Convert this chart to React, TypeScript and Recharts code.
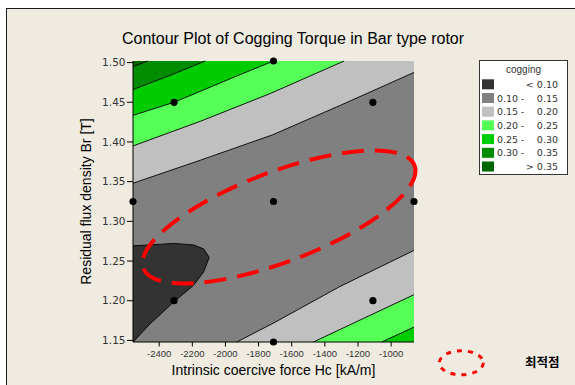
import React from 'react';
import { ComposedChart, Area, Line, Scatter, XAxis, YAxis, ReferenceDot } from 'recharts';

// ---- axis ranges and ticks ----
const HC_MIN = -2558;
const HC_MAX = -862;
const BR_MIN = 1.148;
const BR_MAX = 1.502;
const hcTicks = [-2400, -2200, -2000, -1800, -1600, -1400, -1200, -1000];
const brTicks = [1.15, 1.2, 1.25, 1.3, 1.35, 1.4, 1.45, 1.5];

// ---- legend levels ----
const levelColors = ['#333333', '#808080', '#c0c0c0', '#55ff55', '#00cc00', '#008c00', '#006600'];
const levelLabels = ['< 0.10', '0.10 - 0.15', '0.15 - 0.20', '0.20 - 0.25', '0.25 - 0.30', '0.30 - 0.35', '> 0.35'];

// ---- design points (central composite design) ----
const designPoints = [
  { hc: -2558, br: 1.325 },
  { hc: -2310, br: 1.45 },
  { hc: -2310, br: 1.2 },
  { hc: -1710, br: 1.502 },
  { hc: -1710, br: 1.325 },
  { hc: -1710, br: 1.148 },
  { hc: -1110, br: 1.45 },
  { hc: -1110, br: 1.2 },
  { hc: -862, br: 1.325 },
];

// ---- contour boundaries (upper-left side) ----
const contour035 = [
  { hc: -2558, br: 1.495 },
  { hc: -2469, br: 1.502 },
];
const contour030 = [
  { hc: -2558, br: 1.466 },
  { hc: -2333, br: 1.484 },
  { hc: -2122, br: 1.502 },
];
const contour025 = [
  { hc: -2558, br: 1.4335 },
  { hc: -2310, br: 1.45 },
  { hc: -1921, br: 1.484 },
  { hc: -1710, br: 1.502 },
];
const contour020 = [
  { hc: -2558, br: 1.395 },
  { hc: -2152, br: 1.426 },
  { hc: -1730, br: 1.461 },
  { hc: -1284, br: 1.502 },
];
const contour015Upper = [
  { hc: -2558, br: 1.348 },
  { hc: -2152, br: 1.377 },
  { hc: -1715, br: 1.409 },
  { hc: -1308, br: 1.446 },
  { hc: -862, br: 1.4876 },
];

// ---- contour boundaries (lower-right side) ----
const contour015Lower = [
  { hc: -1931, br: 1.148 },
  { hc: -1700, br: 1.173 },
  { hc: -1308, br: 1.218 },
  { hc: -862, br: 1.2634 },
];
const contour020Lower = [
  { hc: -1469, br: 1.148 },
  { hc: -1158, br: 1.1786 },
  { hc: -862, br: 1.2076 },
];
const contour025Lower = [
  { hc: -1057, br: 1.148 },
  { hc: -862, br: 1.1668 },
];

// ---- < 0.10 region (lower-left) ----
const minRegion = [
  { hc: -2558, lo: 1.148, hi: 1.2691 },
  { hc: -2454, lo: 1.171, hi: 1.2703 },
  { hc: -2313, lo: 1.1983, hi: 1.2722 },
  { hc: -2193, lo: 1.2193, hi: 1.2703 },
  { hc: -2132, lo: 1.2361, hi: 1.2653 },
  { hc: -2098, lo: 1.2546, hi: 1.2546 },
];

const backgroundBand = [
  { hc: HC_MIN, lo: BR_MIN, hi: BR_MAX },
  { hc: HC_MAX, lo: BR_MIN, hi: BR_MAX },
];

// optimum region annotation center
const optimumCenter = { hc: -1677, br: 1.3055 };

const upperKey = (d: any) => [d.br, BR_MAX];
const lowerKey = (d: any) => [BR_MIN, d.br];
const bandKey = (d: any) => [d.lo, d.hi];

const fillProps = { stroke: 'none', fillOpacity: 1, isAnimationActive: false, type: 'linear' as const, activeDot: false, dot: false };
const lineProps = { stroke: '#000', strokeWidth: 0.9, isAnimationActive: false, type: 'linear' as const, activeDot: false, dot: false };

const OptimumEllipse = (props: any) => {
  const { cx, cy } = props;
  if (cx == null || cy == null) return null;
  return (
    <ellipse
      cx={cx}
      cy={cy}
      rx={145}
      ry={45}
      transform={`rotate(-20.8 ${cx} ${cy})`}
      fill="none"
      stroke="#ff0000"
      strokeWidth={4}
      strokeDasharray="22 11"
    />
  );
};

const Dot = (props: any) => <circle cx={props.cx} cy={props.cy} r={3.6} fill="#000" />;

export default function App() {
  const rowY0 = 84.3;
  const rowStep = 13.7;
  return (
    <div style={{ position: 'absolute', left: 0, top: 0, width: 575, height: 385, background: '#fff', overflow: 'hidden' }}>
      <div
        style={{
          position: 'absolute',
          left: 6,
          top: 8,
          width: 620,
          height: 420,
          borderTop: '1.5px solid #1a1a1a',
          borderLeft: '1.5px solid #1a1a1a',
          background: '#efebe1',
        }}
      />
      <div style={{ position: 'absolute', left: 0, top: 0 }}>
        <ComposedChart width={575} height={385} margin={{ top: 61, right: 161, bottom: 0, left: 0 }}>
          <XAxis
            dataKey="hc"
            type="number"
            domain={[HC_MIN, HC_MAX]}
            ticks={hcTicks}
            height={43}
            tickSize={4.5}
            tickMargin={4}
            tick={{ fontSize: 9.5, fontFamily: 'Liberation Sans, Arial, sans-serif', fill: '#333' }}
            axisLine={{ stroke: '#000' }}
            tickLine={{ stroke: '#000' }}
            label={{
              value: 'Intrinsic coercive force Hc [kA/m]',
              position: 'insideBottom',
              offset: 10,
              fontSize: 14,
              fontFamily: 'Liberation Sans, Arial, sans-serif',
              fill: '#000',
            }}
          />
          <YAxis
            type="number"
            domain={[BR_MIN, BR_MAX]}
            ticks={brTicks}
            width={133}
            tickSize={6}
            tickMargin={1.5}
            tickFormatter={(v: number) => v.toFixed(2)}
            tick={{ fontSize: 10.5, fontFamily: 'DejaVu Sans, sans-serif', fill: '#333' }}
            axisLine={{ stroke: '#000' }}
            tickLine={{ stroke: '#000' }}
            label={{
              value: 'Residual flux density Br [T]',
              angle: -90,
              position: 'insideLeft',
              offset: 86,
              fontSize: 14,
              fontFamily: 'Liberation Sans, Arial, sans-serif',
              fill: '#000',
              style: { textAnchor: 'middle' },
            }}
          />
          <XAxis xAxisId="top" orientation="top" type="number" domain={[HC_MIN, HC_MAX]} height={0} tick={false} tickLine={false} axisLine={{ stroke: '#555' }} />
          <YAxis yAxisId="right" orientation="right" type="number" domain={[BR_MIN, BR_MAX]} width={0} tick={false} tickLine={false} axisLine={{ stroke: '#555' }} />

          <Area data={backgroundBand} dataKey={bandKey} fill={levelColors[1]} {...fillProps} />

          <Area data={contour015Upper} dataKey={upperKey} fill={levelColors[2]} {...fillProps} />
          <Area data={contour020} dataKey={upperKey} fill={levelColors[3]} {...fillProps} />
          <Area data={contour025} dataKey={upperKey} fill={levelColors[4]} {...fillProps} />
          <Area data={contour030} dataKey={upperKey} fill={levelColors[5]} {...fillProps} />
          <Area data={contour035} dataKey={upperKey} fill={levelColors[6]} {...fillProps} />

          <Area data={contour015Lower} dataKey={lowerKey} fill={levelColors[2]} {...fillProps} />
          <Area data={contour020Lower} dataKey={lowerKey} fill={levelColors[3]} {...fillProps} />
          <Area data={contour025Lower} dataKey={lowerKey} fill={levelColors[4]} {...fillProps} />

          <Area data={minRegion} dataKey={bandKey} fill={levelColors[0]} {...fillProps} />

          <Line data={contour015Upper} dataKey="br" {...lineProps} />
          <Line data={contour020} dataKey="br" {...lineProps} />
          <Line data={contour025} dataKey="br" {...lineProps} />
          <Line data={contour030} dataKey="br" {...lineProps} />
          <Line data={contour035} dataKey="br" {...lineProps} />
          <Line data={contour015Lower} dataKey="br" {...lineProps} />
          <Line data={contour020Lower} dataKey="br" {...lineProps} />
          <Line data={contour025Lower} dataKey="br" {...lineProps} />
          <Line data={minRegion} dataKey="lo" {...lineProps} />
          <Line data={minRegion} dataKey="hi" {...lineProps} />

          <Scatter data={designPoints} dataKey="br" shape={Dot} isAnimationActive={false} />

          <ReferenceDot x={optimumCenter.hc} y={optimumCenter.br} r={0} shape={OptimumEllipse} />
        </ComposedChart>
      </div>
      <svg width={575} height={385} style={{ position: 'absolute', left: 0, top: 0, pointerEvents: 'none' }}>
        <text x={293} y={43.5} textAnchor="middle" fontSize={16} fontFamily="Liberation Sans, Arial, sans-serif" fill="#000">
          Contour Plot of Cogging Torque in Bar type rotor
        </text>
        <rect x={479.5} y={60.5} width={88} height={114} fill="#fff" stroke="#333" strokeWidth={1} />
        <text x={523.5} y={73} textAnchor="middle" fontSize={10} fontFamily="Liberation Sans, Arial, sans-serif" fill="#333">
          cogging
        </text>
        {levelLabels.map((lab, i) => {
          const cy = rowY0 + i * rowStep;
          const parts = lab.split(' - ');
          return (
            <g key={i}>
              <rect x={482} y={cy - 5} width={12} height={10} fill={levelColors[i]} />
              {parts.length === 2 ? (
                <>
                  <text x={497} y={cy + 3.5} fontSize={9.5} fontFamily="DejaVu Sans, sans-serif" fill="#333">{parts[0]}</text>
                  <text x={522.5} y={cy + 3.5} textAnchor="middle" fontSize={9.5} fontFamily="DejaVu Sans, sans-serif" fill="#333">-</text>
                  <text x={558} y={cy + 3.5} textAnchor="end" fontSize={9.5} fontFamily="DejaVu Sans, sans-serif" fill="#333">{parts[1]}</text>
                </>
              ) : (
                <text x={558} y={cy + 3.5} textAnchor="end" fontSize={9.5} fontFamily="DejaVu Sans, sans-serif" fill="#333">{lab}</text>
              )}
            </g>
          );
        })}
        <ellipse cx={461.3} cy={362.8} rx={22} ry={12} fill="none" stroke="#ff0000" strokeWidth={3} strokeDasharray="5 6" />
        <text x={525} y={367} fontSize={12.5} fontWeight={700} fontFamily="Noto Sans CJK KR, sans-serif" fill="#000">
          최적점
        </text>
      </svg>
    </div>
  );
}
